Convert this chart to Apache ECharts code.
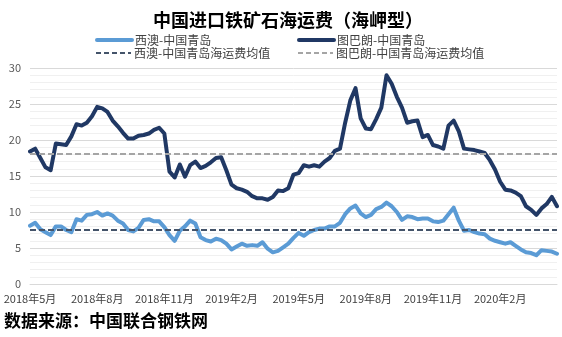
<!DOCTYPE html>
<html>
<head>
<meta charset="utf-8">
<script src="https://cdn.jsdelivr.net/npm/echarts@6/dist/echarts.min.js"></script>
<style>
html,body{margin:0;padding:0;background:#fff;}
#c{width:562px;height:337px;}
</style>
</head>
<body>
<div id="c"></div>
<script>
// ---- data ----
const startDate = '2018-05-04';
const weekCount = 103;
const tickLabels = ['2018年5月','2018年8月','2018年11月','2019年2月','2019年5月','2019年8月','2019年11月','2020年2月'];
const tickEvery = 13;

const westAus = [8.1,8.5,7.6,7.2,6.8,8.0,8.0,7.5,7.2,9.0,
  8.8,9.6,9.7,10.0,9.5,9.8,9.5,8.8,8.4,7.5,
  7.3,7.8,8.9,9.0,8.7,8.7,7.9,6.8,6.0,7.4,
  8.0,8.8,8.4,6.5,6.1,5.9,6.3,6.1,5.6,4.8,
  5.2,5.6,5.3,5.4,5.3,5.8,4.9,4.4,4.6,5.1,
  5.6,6.4,7.1,6.7,7.2,7.5,7.7,7.7,8.0,8.0,
  8.5,9.7,10.5,10.9,9.8,9.3,9.6,10.4,10.7,11.3,
  10.8,10.0,8.9,9.4,9.3,9.0,9.1,9.1,8.7,8.6,
  8.8,9.7,10.6,8.8,7.4,7.5,7.2,7.0,6.9,6.3,
  6.0,5.8,5.6,5.8,5.3,4.8,4.4,4.3,4.0,4.7,
  4.6,4.5,4.2];
const tubarao = [18.4,18.8,17.5,16.2,15.8,19.5,19.4,19.3,20.5,22.2,
  22.0,22.4,23.3,24.6,24.4,23.9,22.7,21.9,21.0,20.2,
  20.2,20.6,20.7,20.9,21.4,21.7,20.9,15.6,14.8,16.6,
  14.9,16.5,17.0,16.1,16.4,16.9,17.5,17.6,15.8,13.8,
  13.3,13.1,12.8,12.2,11.9,11.9,11.7,12.1,13.0,12.9,
  13.3,15.2,15.4,16.5,16.3,16.5,16.3,17.0,17.5,18.5,
  18.8,22.4,25.5,27.2,23.0,21.6,21.5,22.9,24.5,29.0,
  27.8,26.0,24.5,22.4,22.6,22.7,20.4,20.7,19.3,19.1,
  18.8,22.0,22.7,21.2,18.8,18.7,18.6,18.4,18.2,17.2,
  15.9,14.2,13.1,13.0,12.7,12.2,10.8,10.3,9.6,10.5,
  11.1,12.1,10.8];
const westAusMean = 7.5;
const tubaraoMean = 18.1;

const seriesNames = ['西澳-中国青岛','图巴朗-中国青岛','西澳-中国青岛海运费均值','图巴朗-中国青岛海运费均值'];

// weekly category dates
const categories = [];
{
  const d0 = new Date(startDate + 'T00:00:00Z');
  for (let i = 0; i < weekCount; i++) {
    const d = new Date(d0.getTime() + i * 7 * 86400000);
    categories.push(d.toISOString().slice(0,10));
  }
}

const FONT = '"Noto Sans CJK SC", "Noto Sans", sans-serif';
const C_LIGHT = '#5b9bd5';
const C_DARK = '#203864';
const C_MEAN_W = '#44546a';
const C_MEAN_T = '#a5a5a5';

function legendAt(name, left, top, lw) {
  return {
    data: [name], left: left, top: top,
    itemWidth: 35, itemHeight: 12, itemGap: 0, padding: 0,
    itemStyle: {opacity: 0},
    lineStyle: {width: lw},
    textStyle: {fontFamily: FONT, fontSize: 12, color: '#404040', padding: [0,0,0,-2]},
    selectedMode: false
  };
}

const chart = echarts.init(document.getElementById('c'), null, {renderer: 'canvas'});
chart.setOption({
  animation: false,
  backgroundColor: '#ffffff',
  title: {
    text: '中国进口铁矿石海运费（海岬型）',
    left: 148, top: 6,
    textStyle: {fontFamily: FONT, fontSize: 18, fontWeight: 'bold', color: '#000'}
  },
  legend: [
    legendAt(seriesNames[0], 95, 34, 4),
    legendAt(seriesNames[1], 297, 34, 4),
    legendAt(seriesNames[2], 95, 47, 2),
    legendAt(seriesNames[3], 297, 47, 2)
  ],
  grid: {left: 30, right: 5, top: 68, bottom: 53, containLabel: false},
  xAxis: {
    type: 'category',
    data: categories,
    boundaryGap: false,
    axisLine: {show: true, lineStyle: {color: '#d9d9d9', width: 1}},
    axisTick: {show: false},
    splitLine: {show: false},
    axisLabel: {
      interval: function (index) { return index % tickEvery === 0 && (index / tickEvery) < tickLabels.length; },
      formatter: function (value, index) { return tickLabels[index / tickEvery] || ''; },
      fontFamily: FONT, fontSize: 11, color: '#404040', margin: 9
    }
  },
  yAxis: {
    type: 'value',
    min: 0, max: 30, interval: 5,
    axisLine: {show: false},
    axisTick: {show: false},
    axisLabel: {fontFamily: FONT, fontSize: 11, color: '#595959', margin: 9},
    splitLine: {show: true, lineStyle: {color: '#d9d9d9', width: 1}},
    minorTick: {show: false, splitNumber: 5},
    minorSplitLine: {show: true, lineStyle: {color: '#f0f0f0', width: 1}}
  },
  series: [
    {
      name: seriesNames[0], type: 'line', data: westAus,
      showSymbol: false, symbol: 'none', z: 3,
      itemStyle: {color: C_LIGHT},
      lineStyle: {color: C_LIGHT, width: 4, join: 'round', cap: 'round'}
    },
    {
      name: seriesNames[1], type: 'line', data: tubarao,
      showSymbol: false, symbol: 'none', z: 4,
      itemStyle: {color: C_DARK},
      lineStyle: {color: C_DARK, width: 4, join: 'round', cap: 'round'}
    },
    {
      name: seriesNames[2], type: 'line', data: [],
      symbol: 'none', z: 2,
      itemStyle: {color: C_MEAN_W},
      lineStyle: {color: C_MEAN_W, width: 2, type: [5,3]},
      markLine: {
        silent: true, symbol: 'none', label: {show: false}, animation: false,
        lineStyle: {color: C_MEAN_W, width: 2, type: [6,3]},
        data: [{yAxis: westAusMean}]
      }
    },
    {
      name: seriesNames[3], type: 'line', data: [],
      symbol: 'none', z: 2,
      itemStyle: {color: C_MEAN_T},
      lineStyle: {color: C_MEAN_T, width: 2, type: [5,3]},
      markLine: {
        silent: true, symbol: 'none', label: {show: false}, animation: false,
        lineStyle: {color: C_MEAN_T, width: 2, type: [6,3]},
        data: [{yAxis: tubaraoMean}]
      }
    }
  ],
  graphic: [{
    type: 'text', left: 4, top: 312,
    style: {text: '数据来源：中国联合钢铁网', font: 'bold 17px ' + FONT, fill: '#000'}
  }]
});
</script>
</body>
</html>
